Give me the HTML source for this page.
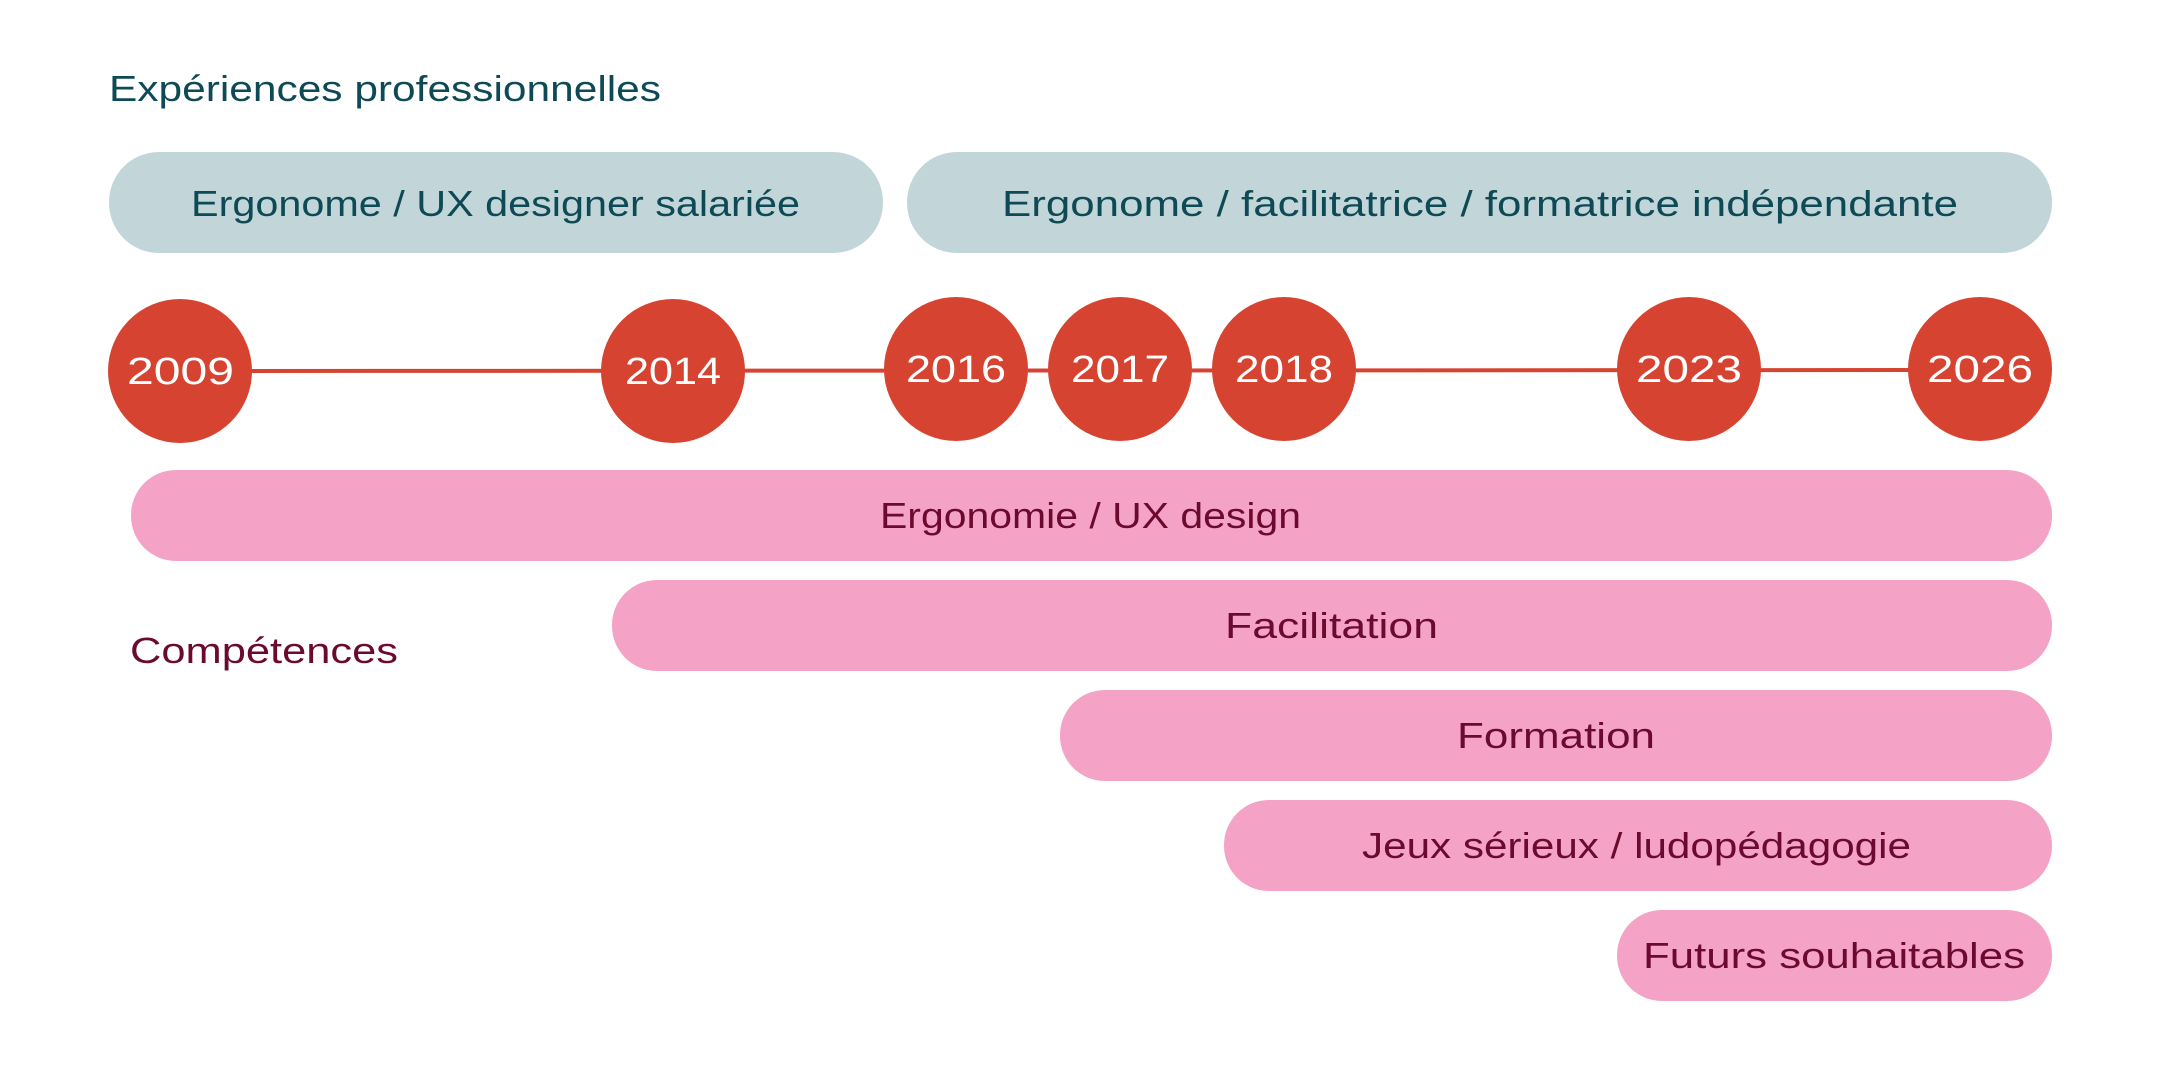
<!DOCTYPE html>
<html><head><meta charset="utf-8"><style>
html,body{margin:0;padding:0;background:#fff;}
svg{display:block;}
text{font-family:"Liberation Sans",sans-serif;}
</style></head><body>
<svg width="2160" height="1080" viewBox="0 0 2160 1080" xmlns="http://www.w3.org/2000/svg">
<rect width="2160" height="1080" fill="#fff"/>
<text x="109" y="101" font-size="36" fill="#0e4a55" textLength="552" lengthAdjust="spacingAndGlyphs">Expériences professionnelles</text>
<rect x="109" y="152" width="774" height="101" rx="50" fill="#c2d6da"/>
<rect x="907" y="152" width="1145" height="101" rx="50" fill="#c2d6da"/>
<text x="191" y="216" font-size="36" fill="#0e4a55" textLength="609" lengthAdjust="spacingAndGlyphs">Ergonome / UX designer salariée</text>
<text x="1002" y="216" font-size="36" fill="#0e4a55" textLength="956" lengthAdjust="spacingAndGlyphs">Ergonome / facilitatrice / formatrice indépendante</text>
<line x1="180" y1="371" x2="1980" y2="370" stroke="#d64431" stroke-width="4"/>
<g fill="#d64431">
<circle cx="180" cy="371" r="72"/><circle cx="673" cy="371" r="72"/><circle cx="956" cy="369" r="72"/>
<circle cx="1120" cy="369" r="72"/><circle cx="1284" cy="369" r="72"/><circle cx="1689" cy="369" r="72"/><circle cx="1980" cy="369" r="72"/>
</g>
<g fill="#fff" font-size="38">
<text x="127" y="384" textLength="107" lengthAdjust="spacingAndGlyphs">2009</text>
<text x="625" y="384" textLength="96" lengthAdjust="spacingAndGlyphs">2014</text>
<text x="906" y="382" textLength="100" lengthAdjust="spacingAndGlyphs">2016</text>
<text x="1071" y="382" textLength="98" lengthAdjust="spacingAndGlyphs">2017</text>
<text x="1235" y="382" textLength="98" lengthAdjust="spacingAndGlyphs">2018</text>
<text x="1636" y="382" textLength="106" lengthAdjust="spacingAndGlyphs">2023</text>
<text x="1927" y="382" textLength="106" lengthAdjust="spacingAndGlyphs">2026</text>
</g>
<g fill="#f4a3c6">
<rect x="131" y="470" width="1921" height="91" rx="45"/>
<rect x="612" y="580" width="1440" height="91" rx="45"/>
<rect x="1060" y="690" width="992" height="91" rx="45"/>
<rect x="1224" y="800" width="828" height="91" rx="45"/>
<rect x="1617" y="910" width="435" height="91" rx="45"/>
</g>
<g fill="#6b0a2e" font-size="36">
<text x="880" y="528" textLength="421" lengthAdjust="spacingAndGlyphs">Ergonomie / UX design</text>
<text x="1225" y="638" textLength="213" lengthAdjust="spacingAndGlyphs">Facilitation</text>
<text x="1457" y="748" textLength="198" lengthAdjust="spacingAndGlyphs">Formation</text>
<text x="1362" y="858" textLength="549" lengthAdjust="spacingAndGlyphs">Jeux sérieux / ludopédagogie</text>
<text x="1643" y="968" textLength="382" lengthAdjust="spacingAndGlyphs">Futurs souhaitables</text>
<text x="130" y="663" textLength="268" lengthAdjust="spacingAndGlyphs">Compétences</text>
</g>
</svg>
</body></html>
